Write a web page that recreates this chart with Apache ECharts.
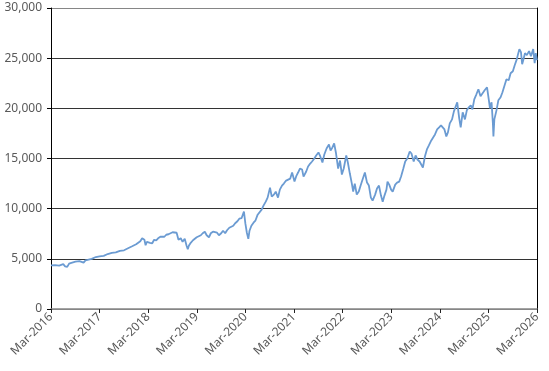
<!DOCTYPE html>
<html><head><meta charset="utf-8">
<script src="https://cdn.jsdelivr.net/npm/echarts@6/dist/echarts.min.js"></script>
<style>html,body{margin:0;padding:0;background:#fff}#c{width:549px;height:371px}</style>
</head><body><div id="c"></div>
<script>
const startDate = '2016-03-01';
const xTickLabels = ['Mar-2016','Mar-2017','Mar-2018','Mar-2019','Mar-2020','Mar-2021','Mar-2022','Mar-2023','Mar-2024','Mar-2025','Mar-2026'];
const yTicks = [0, 5000, 10000, 15000, 20000, 25000, 30000];
const dates = [
'2016-03-01','2016-03-15','2016-04-01','2016-04-15','2016-05-01','2016-05-15','2016-06-01','2016-06-15','2016-07-01','2016-07-15',
'2016-08-01','2016-08-15','2016-09-01','2016-09-15','2016-10-01','2016-10-15','2016-11-01','2016-11-15','2016-12-01','2016-12-15',
'2017-01-01','2017-01-15','2017-02-01','2017-02-15','2017-03-01','2017-03-15','2017-04-01','2017-04-15','2017-05-01','2017-05-15',
'2017-06-01','2017-06-15','2017-07-01','2017-07-15','2017-08-01','2017-08-15','2017-09-01','2017-09-15','2017-10-01','2017-10-15',
'2017-11-01','2017-11-15','2017-12-01','2017-12-15','2018-01-01','2018-01-15','2018-02-01','2018-02-10','2018-02-20','2018-03-01',
'2018-03-15','2018-04-01','2018-04-15','2018-05-01','2018-05-15','2018-06-01','2018-06-15','2018-07-01','2018-07-15','2018-08-01',
'2018-08-15','2018-09-01','2018-09-15','2018-10-01','2018-10-15','2018-11-01','2018-11-15','2018-12-01','2018-12-15','2018-12-24',
'2019-01-01','2019-01-15','2019-02-01','2019-02-15','2019-03-01','2019-03-15','2019-04-01','2019-04-15','2019-05-01','2019-05-15',
'2019-06-01','2019-06-15','2019-07-01','2019-07-15','2019-08-01','2019-08-15','2019-09-01','2019-09-15','2019-10-01','2019-10-15',
'2019-11-01','2019-11-15','2019-12-01','2019-12-15','2020-01-01','2020-01-15','2020-02-01','2020-02-19','2020-03-01','2020-03-12',
'2020-03-23','2020-04-01','2020-04-15','2020-05-01','2020-05-15','2020-06-01','2020-06-15','2020-07-01','2020-07-15','2020-08-01',
'2020-08-15','2020-09-02','2020-09-15','2020-10-01','2020-10-15','2020-11-01','2020-11-15','2020-12-01','2020-12-15','2021-01-01',
'2021-01-15','2021-02-01','2021-02-15','2021-03-05','2021-03-20','2021-04-01','2021-04-15','2021-05-01','2021-05-12','2021-06-01',
'2021-06-15','2021-07-01','2021-07-15','2021-08-01','2021-08-15','2021-09-01','2021-09-15','2021-10-01','2021-10-15','2021-11-01',
'2021-11-19','2021-12-01','2021-12-15','2021-12-28','2022-01-10','2022-01-27','2022-02-10','2022-02-24','2022-03-10','2022-03-29',
'2022-04-10','2022-04-25','2022-05-10','2022-05-20','2022-06-01','2022-06-16','2022-07-01','2022-07-15','2022-08-01','2022-08-16',
'2022-09-01','2022-09-15','2022-09-30','2022-10-13','2022-11-01','2022-11-15','2022-11-30','2022-12-15','2022-12-28','2023-01-10',
'2023-01-25','2023-02-02','2023-02-15','2023-03-01','2023-03-13','2023-04-01','2023-04-15','2023-05-01','2023-05-15','2023-06-01',
'2023-06-15','2023-07-01','2023-07-19','2023-08-01','2023-08-18','2023-09-01','2023-09-15','2023-10-01','2023-10-26','2023-11-10',
'2023-11-25','2023-12-10','2023-12-28','2024-01-10','2024-01-25','2024-02-10','2024-02-25','2024-03-10','2024-03-25','2024-04-05',
'2024-04-19','2024-05-01','2024-05-15','2024-06-01','2024-06-15','2024-07-10','2024-07-25','2024-08-05','2024-08-20','2024-09-06',
'2024-09-20','2024-10-05','2024-10-20','2024-11-01','2024-11-15','2024-12-01','2024-12-16','2025-01-01','2025-01-15','2025-02-01',
'2025-02-19','2025-03-05','2025-03-13','2025-03-25','2025-04-04','2025-04-08','2025-04-15','2025-05-01','2025-05-15','2025-06-01',
'2025-06-15','2025-07-01','2025-07-15','2025-08-01','2025-08-15','2025-09-01','2025-09-15','2025-10-01','2025-10-10','2025-10-20',
'2025-11-01','2025-11-10','2025-11-20','2025-12-01','2025-12-15','2026-01-01','2026-01-15','2026-02-01','2026-02-12','2026-02-20',
'2026-03-01'
];
const values = [
4350,4420,4380,4450,4330,4400,4470,4250,4200,4520,
4600,4680,4720,4650,4780,4700,4620,4850,4900,5050,
5000,5120,5180,5300,5250,5320,5300,5380,5480,5450,
5600,5580,5650,5720,5800,5700,5850,5950,6050,6150,
6250,6300,6450,6600,6750,7050,6900,6350,6700,6850,
6600,6550,6900,6850,7050,7200,7100,7200,7400,7450,
7550,7650,7500,7600,6900,7050,6700,7000,6300,5950,
6300,6600,6850,7000,7150,7100,7350,7550,7700,7350,
7150,7550,7700,7850,7600,7350,7550,7800,7550,7850,
8100,8250,8300,8550,8750,9000,9050,9700,8500,7600,
7000,7800,8300,8600,8800,9400,9500,9900,10300,10700,
11100,12100,11200,11400,11700,11100,11900,12300,12500,12800,
12900,13000,13600,12700,13300,13600,14000,13900,13200,13700,
14200,14500,14700,15000,15300,15600,15200,14600,15400,16000,
16400,15800,16100,16500,15600,14000,14800,13400,14000,15300,
14600,13500,12500,11700,12500,11400,11700,12300,13000,13600,
12600,12300,11100,10800,11400,12000,12300,11300,10700,11300,
11900,12700,12400,11900,11700,12400,12600,12700,13200,14000,
14700,15000,15700,15500,14700,15300,14900,14700,14100,15200,
15900,16300,16800,16700,17400,17900,18100,18300,18200,17900,
17200,17600,18500,18900,19700,20600,19000,18100,19600,18900,
19800,20100,20300,19900,20900,21400,21900,21200,21300,21800,
22100,20800,20000,20600,18500,17200,18900,19800,20800,21100,
21600,22300,22900,22800,23500,23700,24300,24900,25400,25900,
25600,24400,24900,25500,25300,25700,25200,25900,24500,25500,
24800
];

const DAY = 864e5;
const t0 = Date.parse(startDate);
const seriesData = dates.map((d, i) => [(Date.parse(d) - t0) / (365.25 * DAY), values[i]]);

const chart = echarts.init(document.getElementById('c'), null, {renderer: 'canvas'});
const font = '"Noto Sans", sans-serif';
chart.setOption({
  animation: false,
  backgroundColor: '#ffffff',
  grid: {left: 51, right: 12, top: 8, bottom: 62, containLabel: false, outerBoundsMode: 'none'},
  xAxis: {
    type: 'value', min: 0, max: 10, interval: 1,
    axisLine: {show: true, onZero: false, lineStyle: {color: '#868686', width: 1.5}},
    axisTick: {show: true, length: 4, lineStyle: {color: '#222'}},
    splitLine: {show: false},
    axisLabel: {
      rotate: 45, margin: 6, color: '#595959', fontSize: 12, fontFamily: font,
      formatter: v => xTickLabels[Math.round(v)] || ''
    }
  },
  yAxis: [{
    type: 'value', min: yTicks[0], max: yTicks[yTicks.length - 1], interval: 5000,
    axisLine: {show: true, lineStyle: {color: '#000', width: 1}},
    axisTick: {show: true, length: 4, lineStyle: {color: '#000'}},
    splitLine: {show: true, lineStyle: {color: ['#868686','#333','#333','#333','#333','#333','#868686'], width: 1}},
    axisLabel: {
      margin: 9, color: '#595959', fontSize: 12, fontFamily: font,
      formatter: v => v.toLocaleString('en-US')
    }
  }, {
    type: 'value', position: 'right', min: yTicks[0], max: yTicks[yTicks.length - 1], interval: 5000,
    axisLine: {show: true, lineStyle: {color: '#000', width: 1}},
    axisTick: {show: false}, axisLabel: {show: false}, splitLine: {show: false}
  }],
  series: [{
    type: 'line', data: seriesData, showSymbol: false, symbol: 'none',
    lineStyle: {color: '#6b9bd2', width: 1.8}, smooth: false
  }]
});
</script></body></html>
